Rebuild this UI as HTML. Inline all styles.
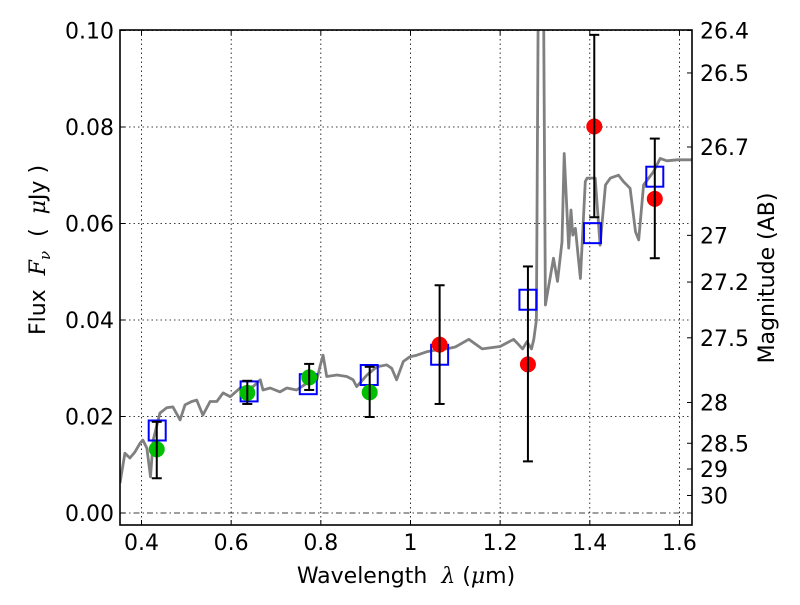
<!DOCTYPE html>
<html><head><meta charset="utf-8"><style>
body{margin:0;background:#fff;width:800px;height:600px;overflow:hidden}
svg{font-family:"DejaVu Sans","Liberation Sans",sans-serif}
</style></head><body>
<svg id="chart" width="800" height="600" viewBox="0 0 800 600" xmlns="http://www.w3.org/2000/svg">
<rect width="800" height="600" fill="#fff"/>
<g id="grid"></g>
<g id="spec"></g>
<g id="marks"></g>
<g id="axes"></g>
<text x="406" y="583" font-size="22" text-anchor="middle" xml:space="preserve">Wavelength  <tspan font-style="italic" font-family="DejaVu Serif,serif">λ</tspan> (<tspan font-style="italic" font-family="DejaVu Serif,serif">μ</tspan>m)</text>
<text transform="translate(45,250) rotate(-90)" font-size="22" text-anchor="middle" xml:space="preserve">Flux  <tspan font-style="italic" font-family="DejaVu Serif,serif">F<tspan font-size="15" dy="5">ν</tspan></tspan><tspan dy="-5">  (  </tspan><tspan font-style="italic" font-family="DejaVu Serif,serif">μ</tspan>Jy )</text>
<text transform="translate(774,278) rotate(-90)" font-size="22" text-anchor="middle">Magnitude (AB)</text>
</svg>
<script>
const xTicks=[0.4,0.6,0.8,1.0,1.2,1.4,1.6];
const xTickLabels=["0.4","0.6","0.8","1","1.2","1.4","1.6"];
const yTicks=[0,0.02,0.04,0.06,0.08,0.1];
const yTickLabels=["0.00","0.02","0.04","0.06","0.08","0.10"];
const magTicks=[26.4,26.5,26.7,27,27.2,27.5,28,28.5,29,30];
const magTickLabels=["26.4","26.5","26.7","27","27.2","27.5","28","28.5","29","30"];
const specWave=[0.352,0.363,0.374,0.385,0.397,0.403,0.412,0.42,0.426,0.441,0.456,0.47,0.486,0.497,0.512,0.523,0.537,0.553,0.568,0.582,0.598,0.62,0.649,0.665,0.671,0.687,0.709,0.724,0.746,0.769,0.791,0.798,0.805,0.813,0.836,0.858,0.872,0.88,0.903,0.925,0.947,0.958,0.969,0.984,0.999,1.014,1.036,1.059,1.08,1.10,1.13,1.16,1.2,1.23,1.24,1.25,1.26,1.27,1.275,1.281,1.285,1.297,1.301,1.319,1.328,1.338,1.343,1.353,1.358,1.362,1.368,1.379,1.39,1.394,1.412,1.423,1.435,1.446,1.464,1.475,1.49,1.502,1.509,1.52,1.542,1.557,1.572,1.595,1.63];
const specFlux=[0.0062,0.0124,0.0114,0.0126,0.0145,0.0151,0.0134,0.0075,0.0151,0.0207,0.0218,0.022,0.0193,0.0224,0.0231,0.0234,0.0203,0.0231,0.0231,0.0249,0.0241,0.0259,0.0262,0.0276,0.0255,0.0259,0.0251,0.0259,0.0255,0.0269,0.0276,0.0303,0.0327,0.0283,0.0286,0.0283,0.0276,0.0262,0.0286,0.0303,0.0307,0.030,0.0276,0.0314,0.0324,0.0327,0.0334,0.0338,0.034,0.0344,0.036,0.034,0.0345,0.036,0.035,0.034,0.0355,0.034,0.036,0.04,0.105,0.105,0.0431,0.0528,0.048,0.0562,0.0745,0.0549,0.0628,0.0576,0.059,0.0486,0.0687,0.0694,0.0694,0.0555,0.068,0.0694,0.070,0.0687,0.0673,0.0583,0.0566,0.068,0.0707,0.0735,0.073,0.0732,0.0732];
const modelWave=[0.435,0.64,0.772,0.908,1.065,1.262,1.406,1.545];
const modelFlux=[0.0171,0.0252,0.0267,0.0286,0.0328,0.0442,0.058,0.0697];
const greenWave=[0.434,0.636,0.774,0.909];
const greenFlux=[0.0132,0.0249,0.0281,0.025];
const greenLo=[0.0072,0.0226,0.0255,0.0199];
const greenHi=[0.0189,0.0274,0.0309,0.0303];
const redWave=[1.065,1.262,1.41,1.545];
const redFlux=[0.0349,0.0308,0.0801,0.0651];
const redLo=[0.0226,0.0107,0.0613,0.0528];
const redHi=[0.0472,0.0511,0.0991,0.0776];

const L=120,R=692,T=30,B=525;
const X0=0.352,X1=1.628;
function sx(v){return L+(v-X0)/(X1-X0)*(R-L);}
function sy(v){return 513-v*4825;}
function magToFlux(m){return Math.pow(10,(23.9-m)/2.5);}
const NS="http://www.w3.org/2000/svg";
function mk(parent,tag,attrs){const e=document.createElementNS(NS,tag);for(const k in attrs)e.setAttribute(k,attrs[k]);parent.appendChild(e);return e;}
const grid=document.getElementById('grid'),spec=document.getElementById('spec'),marks=document.getElementById('marks'),axes=document.getElementById('axes');
const defs=mk(document.getElementById('chart'),'defs',{});
const cp=mk(defs,'clipPath',{id:'clip'});mk(cp,'rect',{x:L,y:T,width:R-L,height:B-T});
spec.setAttribute('clip-path','url(#clip)');
xTicks.forEach((v,i)=>{
  const g=mk(grid,'line',{x1:sx(v),x2:sx(v),y1:T,y2:B,stroke:'#000','stroke-width':0.8,'stroke-dasharray':'1.5,3'});
  
  
  mk(axes,'line',{x1:sx(v),x2:sx(v),y1:B,y2:B-5,stroke:'#000'});
  mk(axes,'line',{x1:sx(v),x2:sx(v),y1:T,y2:T+5,stroke:'#000'});
  const t=mk(axes,'text',{x:sx(v),y:B+25,'font-size':22,'text-anchor':'middle'});
  
  
  t.textContent=xTickLabels[i];
});
yTicks.forEach((v,i)=>{
  const g=mk(grid,'line',{x1:L,x2:R,y1:sy(v),y2:sy(v),stroke:'#000','stroke-width':0.8,'stroke-dasharray':v===0?'6,3,1.5,3':'1.5,3'});
  
  
  mk(axes,'line',{x1:L,x2:L+5,y1:sy(v),y2:sy(v),stroke:'#000'});
  const t=mk(axes,'text',{x:L-6,y:sy(v)+8,'font-size':22,'text-anchor':'end'});
  
  
  t.textContent=yTickLabels[i];
});
magTicks.forEach((m,i)=>{
  const y=sy(magToFlux(m));
  mk(axes,'line',{x1:R,x2:R-5,y1:y,y2:y,stroke:'#000'});
  const t=mk(axes,'text',{x:R+8,y:y+8,'font-size':22});
  
  
  t.textContent=magTickLabels[i];
});
let d=specWave.map((w,i)=>(i?'L':'M')+sx(w).toFixed(1)+','+sy(specFlux[i]).toFixed(1)).join(' ');
const p=mk(spec,'path',{d:d,fill:'none',stroke:'#808080','stroke-width':2.8,'stroke-linejoin':'round'});


function errbar(x,lo,hi){
  const g=mk(marks,'g',{stroke:'#000','stroke-width':2});
  
  
  mk(g,'line',{x1:x,x2:x,y1:sy(lo),y2:sy(hi)});
  mk(g,'line',{x1:x-5,x2:x+5,y1:sy(lo),y2:sy(lo)});
  mk(g,'line',{x1:x-5,x2:x+5,y1:sy(hi),y2:sy(hi)});
}
modelWave.forEach((w,i)=>{
  const r=mk(marks,'rect',{x:sx(w)-8.5,y:sy(modelFlux[i])-10,width:17,height:20,fill:'none',stroke:'#0000ff','stroke-width':2});
  
  
});
greenWave.forEach((w,i)=>{
  const c=mk(marks,'circle',{cx:sx(w),cy:sy(greenFlux[i]),r:8,fill:'#00bf00'});
  
  
  errbar(sx(w),greenLo[i],greenHi[i]);
});
redWave.forEach((w,i)=>{
  const c=mk(marks,'circle',{cx:sx(w),cy:sy(redFlux[i]),r:8,fill:'#ff0000'});
  
  
  errbar(sx(w),redLo[i],redHi[i]);
});
const fr=mk(axes,'rect',{x:L,y:T,width:R-L,height:B-T,fill:'none',stroke:'#000','stroke-width':1.6});


</script>
</body></html>
